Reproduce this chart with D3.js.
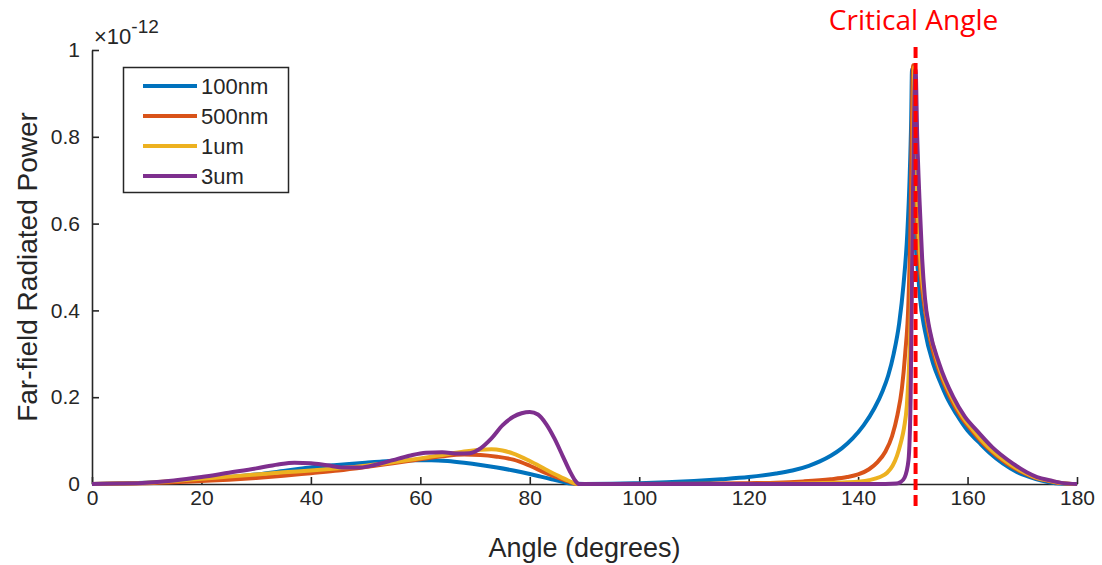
<!DOCTYPE html>
<html>
<head>
<meta charset="utf-8">
<script src="https://cdn.jsdelivr.net/npm/d3@7"></script>
<style>
  html, body { margin: 0; padding: 0; background: #fff; }
  svg { display: block; }
  text { font-family: "Liberation Sans", Arial, sans-serif; fill: #262626; }
</style>
</head>
<body>
<svg id="chart" width="1102" height="565"></svg>
<script>
// Far-field radiated power (×1e-12) versus angle, for four source sizes
const seriesNames = ["100nm", "500nm", "1um", "3um"];
const seriesColors = ["#0072BD", "#D95319", "#EDB120", "#7E2F8E"];

const angles100nm = [0,5,10,15,20,25,30,35,38,41,44,47,50,53,56,59,62,65,68,71,74,77,80,82,84,86,87.5,90,95,100,105,110,115,120,125,128,131,133,135,137,139,141,143,144.5,145.5,146.5,147.5,148.3,149,149.4,149.7,149.85,150.1,150.4,151,151.3,152.2,153.7,155,156.2,158,160,162,164,166.5,169,171.4,173.5,176,180];
const power100nm  = [0,0.001,0.003,0.006,0.01,0.016,0.022,0.03,0.035,0.04,0.043,0.046,0.049,0.052,0.054,0.055,0.055,0.053,0.049,0.044,0.038,0.031,0.023,0.017,0.011,0.005,0.001,0,0.0005,0.002,0.004,0.007,0.011,0.016,0.024,0.031,0.042,0.052,0.065,0.082,0.105,0.135,0.175,0.215,0.25,0.3,0.37,0.46,0.58,0.7,0.84,0.955,0.85,0.585,0.48,0.43,0.354,0.278,0.235,0.2,0.16,0.123,0.097,0.072,0.047,0.028,0.016,0.008,0.002,0];

const angles500nm = [0,5,10,15,20,25,30,35,40,45,50,55,60,64,68,71,74,77,80,83,85,87,88.6,95,110,120,125,130,135,138,140,142,143.5,145,146.2,147.2,148,148.6,149.2,149.6,149.85,150.05,150.3,150.6,151.3,152,152.6,153.4,154.5,156.8,158.8,160.8,163.5,167.2,170,172,174.5,177,180];
const power500nm  = [0,0.001,0.002,0.004,0.007,0.01,0.014,0.019,0.025,0.031,0.039,0.048,0.057,0.064,0.068,0.067,0.063,0.056,0.042,0.025,0.015,0.006,0,0,0.0005,0.002,0.003,0.006,0.011,0.016,0.022,0.034,0.05,0.075,0.11,0.16,0.22,0.3,0.42,0.62,0.85,0.965,0.8,0.64,0.5,0.42,0.37,0.32,0.272,0.2,0.155,0.123,0.085,0.047,0.027,0.016,0.008,0.002,0];

const angles1um = [0,5,10,15,20,25,30,35,40,45,50,55,60,64,68,71,73,75,77,80,83,85,87,88.7,110,125,132,138,142,144,145.3,146.3,147.1,147.8,148.4,148.9,149.4,149.8,150.05,150.25,150.5,150.8,151.5,152.2,152.9,153.8,154.6,157.1,159.1,161.1,163.8,167.6,170.3,172.3,174.8,177.2,180];
const power1um  = [0,0.001,0.003,0.007,0.012,0.017,0.022,0.027,0.031,0.036,0.042,0.05,0.059,0.067,0.075,0.079,0.08,0.077,0.07,0.053,0.033,0.02,0.008,0,0,0.0005,0.002,0.004,0.009,0.016,0.026,0.042,0.065,0.095,0.13,0.18,0.3,0.5,0.75,0.96,0.8,0.66,0.5,0.42,0.36,0.315,0.278,0.2,0.155,0.123,0.085,0.047,0.027,0.016,0.008,0.002,0];

const angles3um = [0,5,10,15,20,25,30,34,37,40,43,46,49,52,55,58,61,64,67,69,71,73,75,77,78.5,80,81.5,83,84.5,86,87.3,88.3,89,120,145,147,147.7,148.5,149.2,149.6,149.95,150.3,150.5,150.8,151.2,151.7,152.2,153.1,154.8,157.4,159.5,161.7,164.5,168.3,170.8,172.7,175.2,177.5,180];
const power3um  = [0,0.001,0.003,0.008,0.016,0.026,0.036,0.045,0.049,0.048,0.043,0.038,0.038,0.045,0.055,0.065,0.072,0.073,0.07,0.071,0.082,0.105,0.135,0.155,0.163,0.166,0.16,0.138,0.105,0.065,0.03,0.008,0,0,0,0.001,0.004,0.015,0.054,0.2,0.6,0.9,0.955,0.8,0.66,0.52,0.43,0.354,0.278,0.2,0.155,0.123,0.085,0.047,0.027,0.016,0.008,0.002,0];

const xTicks = [0,20,40,60,80,100,120,140,160,180];
const yTicks = [0,0.2,0.4,0.6,0.8,1];
const criticalAngle = 150.5;

const seriesData = [
  [angles100nm, power100nm],
  [angles500nm, power500nm],
  [angles1um, power1um],
  [angles3um, power3um]
].map(([a, p], i) => ({
  name: seriesNames[i],
  color: seriesColors[i],
  points: a.map((d, j) => ({ x: d, y: p[j] }))
}));

const svg = d3.select("#chart");
const plot = { left: 92, right: 1077, top: 50, bottom: 484 };
const axisColor = "#262626";

const x = d3.scaleLinear().domain([0, 180]).range([plot.left, plot.right]);
const y = d3.scaleLinear().domain([0, 1]).range([plot.bottom, plot.top]);

// axes with inward ticks, no box
const xAxis = d3.axisBottom(x).tickValues(xTicks).tickSizeInner(-7).tickSizeOuter(0).tickPadding(6).tickFormat(d3.format("d"));
const yAxis = d3.axisLeft(y).tickValues(yTicks).tickSizeInner(-7).tickSizeOuter(0).tickPadding(12).tickFormat(d => d === 0 || d === 1 ? String(d) : d3.format(".1f")(d));

const gx = svg.append("g").attr("transform", `translate(0,${plot.bottom})`).call(xAxis);
const gy = svg.append("g").attr("transform", `translate(${plot.left},0)`).call(yAxis);
[gx, gy].forEach(g => {
  g.select(".domain").attr("stroke", axisColor).attr("stroke-width", 1.6);
  g.selectAll(".tick line").attr("stroke", axisColor).attr("stroke-width", 1.6);
  g.selectAll(".tick text").attr("fill", axisColor).style("font-size", "21px").style("font-family", "Liberation Sans, Arial, sans-serif");
});

// exponent label
const expo = svg.append("text").attr("x", 94).attr("y", 44).style("font-size", "22px");
expo.append("tspan").text("×10");
expo.append("tspan").attr("dy", -11).style("font-size", "19px").text("-12");

// axis titles
svg.append("text")
  .attr("x", (plot.left + plot.right) / 2).attr("y", 557)
  .attr("text-anchor", "middle").style("font-size", "27px")
  .text("Angle (degrees)");

svg.append("text")
  .attr("transform", `translate(37,${(plot.top + plot.bottom) / 2}) rotate(-90)`)
  .attr("text-anchor", "middle").style("font-size", "28px")
  .text("Far-field Radiated Power");

// curves
const line = d3.line().x(d => x(d.x)).y(d => y(d.y)).curve(d3.curveMonotoneX);
svg.append("g").selectAll("path").data(seriesData).join("path")
  .attr("d", d => line(d.points))
  .attr("fill", "none")
  .attr("stroke", d => d.color)
  .attr("stroke-width", 4)
  .attr("stroke-linejoin", "round");

// critical angle marker
svg.append("line")
  .attr("x1", x(criticalAngle)).attr("x2", x(criticalAngle))
  .attr("y1", 47).attr("y2", 507)
  .attr("stroke", "#FF0000").attr("stroke-width", 4)
  .attr("stroke-dasharray", "11,5");

svg.append("text")
  .attr("x", x(criticalAngle) - 2).attr("y", 30)
  .attr("text-anchor", "middle")
  .style("font-family", "Open Sans, sans-serif")
  .style("font-size", "28px")
  .style("fill", "#FF0000")
  .text("Critical Angle");

// legend
const legend = svg.append("g");
legend.append("rect")
  .attr("x", 123.5).attr("y", 67.5).attr("width", 165).attr("height", 125)
  .attr("fill", "#fff").attr("stroke", axisColor).attr("stroke-width", 1.5);
const items = legend.selectAll("g.item").data(seriesData).join("g")
  .attr("class", "item")
  .attr("transform", (d, i) => `translate(0,${86 + i * 30})`);
items.append("line")
  .attr("x1", 143).attr("x2", 197)
  .attr("stroke", d => d.color).attr("stroke-width", 4);
items.append("text")
  .attr("x", 201).attr("dy", "0.35em")
  .style("font-size", "22px")
  .text(d => d.name);
</script>
</body>
</html>
